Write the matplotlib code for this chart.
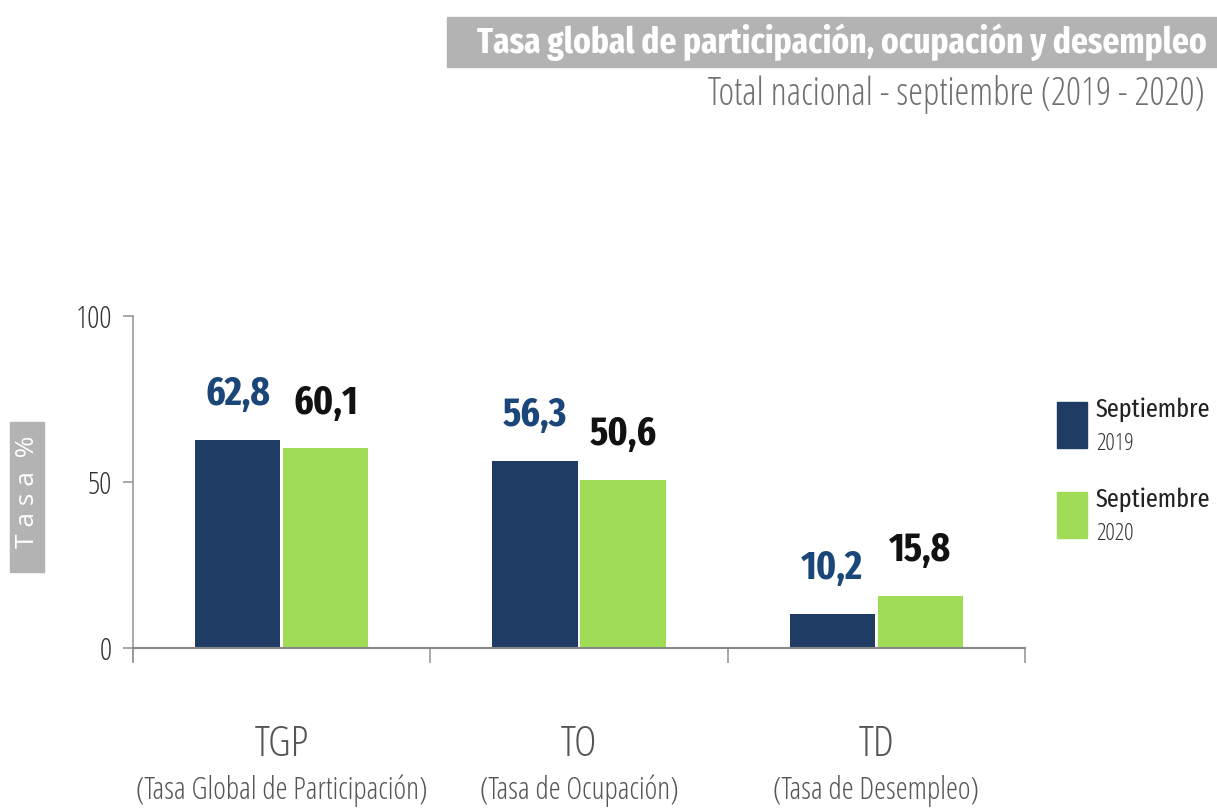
import matplotlib
matplotlib.use("Agg")
import matplotlib.pyplot as plt
import matplotlib.transforms as mtransforms
from matplotlib.patches import Rectangle
from matplotlib.font_manager import FontProperties
import numpy as np

# -----------------------
# Data
# -----------------------
categories = ["TGP", "TO", "TD"]
category_names = ["(Tasa Global de Participación)", "(Tasa de Ocupación)", "(Tasa de Desempleo)"]
sep_2019 = [62.8, 56.3, 10.2]
sep_2020 = [60.1, 50.6, 15.8]
series_names = ["Septiembre\n2019", "Septiembre\n2020"]

title = "Tasa global de participación, ocupación y desempleo"
subtitle = "Total nacional - septiembre (2019 - 2020)"

NAVY = "#1e3c64"
GREEN = "#a0dc55"
NAVY_TXT = "#1b4679"
GRAY_BOX = "#b3b3b3"

# -----------------------
# Fonts (condensed look)
# -----------------------
def light(size):
    return FontProperties(family="Open Sans", stretch="condensed", weight=300, size=size)

def bold(size):
    return FontProperties(family="Fira Sans Extra Condensed", weight="bold", size=size)

fig = plt.figure(figsize=(12.17, 8.09), dpi=100)
ax = fig.add_axes([0.1093, 0.199, 0.7329, 0.4104])

x = np.arange(len(categories))
w = 0.286
b1 = ax.bar(x - w / 2 - 0.005, sep_2019, w, color=NAVY)
b2 = ax.bar(x + w / 2 + 0.005, sep_2020, w, color=GREEN)

# value labels
for bars, vals, col in [(b1, sep_2019, NAVY_TXT), (b2, sep_2020, "#111111")]:
    for rect, v in zip(bars, vals):
        ax.annotate(f"{v:.1f}".replace(".", ","), (rect.get_x() + rect.get_width() / 2, v),
                    xytext=(0, 25), textcoords="offset points", ha="center", va="baseline",
                    fontproperties=bold(29), color=col)

# axes styling
ax.set_xlim(-0.5, 2.5)
ax.set_ylim(0, 100)
ax.set_yticks([0, 50, 100])
ax.tick_params(axis="y", labelcolor="#333333", color="#999999",
               length=7, width=1.2, pad=8)
for lab in ax.get_yticklabels():
    lab.set_fontproperties(light(22))
ax.set_xticks([-0.5, 0.5, 1.5, 2.5])
ax.set_xticklabels([])
ax.tick_params(axis="x", color="#999999", length=11, width=1.2)
for s in ["top", "right"]:
    ax.spines[s].set_visible(False)
ax.spines["left"].set_color("#999999")
ax.spines["bottom"].set_color("#888888")
ax.spines["left"].set_linewidth(1.2)
ax.spines["bottom"].set_linewidth(1.5)
ax.spines["left"].set_bounds(-4, 100)

# category labels below axis
trans = mtransforms.blended_transform_factory(ax.transData, ax.transAxes)
for i, (c, n) in enumerate(zip(categories, category_names)):
    ax.text(i, -0.292, c, transform=trans, ha="center", va="center",
            fontproperties=light(31), color="#555555")
    ax.text(i, -0.43, n, transform=trans, ha="center", va="center",
            fontproperties=light(22), color="#555555")

# title box
fig.patches.append(Rectangle((447 / 1217, 1 - 67 / 809), 770 / 1217, 50 / 809,
                             transform=fig.transFigure, color=GRAY_BOX, zorder=0))
fig.text(1207 / 1217, 1 - 42 / 809, title, ha="right", va="center",
         fontproperties=bold(26), color="white")
fig.text(1205 / 1217, 1 - 95 / 809, subtitle, ha="right", va="center",
         fontproperties=light(27), color="#707070")

# y label box
fig.patches.append(Rectangle((10 / 1217, 1 - 572 / 809), 34 / 1217, 150 / 809,
                             transform=fig.transFigure, color=GRAY_BOX, zorder=0))
fig.text(27 / 1217, 1 - 492 / 809, "T a s a  %", ha="center", va="center", rotation=90,
         fontsize=19, color="white", family=["Open Sans", "DejaVu Sans"])

# legend
for (y0, col, name) in [(402, NAVY, series_names[0]), (492, GREEN, series_names[1])]:
    fig.patches.append(Rectangle((1057 / 1217, 1 - (y0 + 46) / 809), 30 / 1217, 46 / 809,
                                 transform=fig.transFigure, color=col))
    top, bottom = name.split("\n")
    fig.text(1096 / 1217, 1 - (y0 + 8) / 809, top, ha="left", va="center",
             fontproperties=FontProperties(family="Fira Sans Extra Condensed",
                                           weight=400, size=19), color="#222222")
    fig.text(1096 / 1217, 1 - (y0 + 42) / 809, bottom, ha="left", va="center",
             fontproperties=light(17), color="#333333")

fig.savefig("out.png", dpi=100)
